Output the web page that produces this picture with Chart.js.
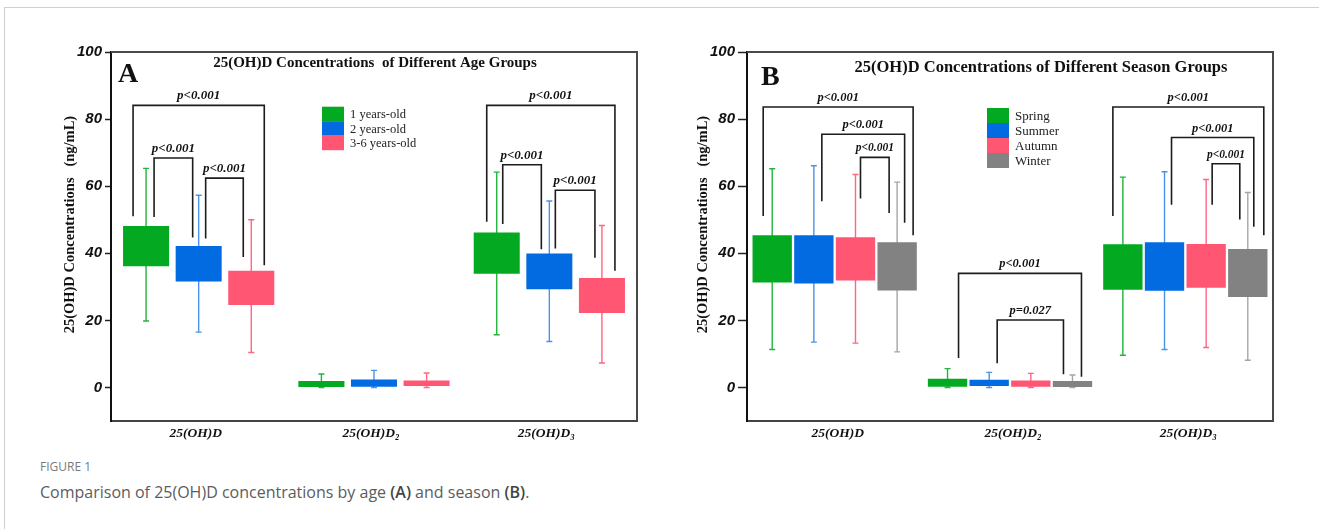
<!DOCTYPE html>
<html>
<head>
<meta charset="utf-8">
<script src="https://cdn.jsdelivr.net/npm/chart.js@4.4.0/dist/chart.umd.min.js"></script>
<style>
  body { margin: 0; background: #fff; }
  #page { position: relative; width: 1319px; height: 529px; overflow: hidden; background: #fff; }
  #frame { position: absolute; left: 4px; top: 7px; width: 1320px; height: 530px; border-top: 1px solid #cfcfcf; border-left: 1px solid #cfcfcf; }
  canvas { position: absolute; top: 0; }
  #chartA { left: 0; }
  #chartB { left: 660px; }
  .fig { position: absolute; left: 40px; top: 458px; font: 12px 'Open Sans', sans-serif; color: #7a7a7a; }
  .cap { position: absolute; left: 40px; top: 481px; font: 16px 'Open Sans', sans-serif; color: #5c5c5c; }
  .cap b { color: #444; font-weight: 600; }
</style>
</head>
<body>
<div id="page">
  <div id="frame"></div>
  <canvas id="chartA" width="660" height="451"></canvas>
  <canvas id="chartB" width="659" height="451"></canvas>
  <div class="fig">FIGURE 1</div>
  <div class="cap">Comparison of 25(OH)D concentrations by age <b>(A)</b> and season <b>(B)</b>.</div>
</div>
<script>
// 数据
const categories = ['25(OH)D', '25(OH)D₂', '25(OH)D₃'];
const yTicks = [0, 20, 40, 60, 80, 100];

// A: 年龄组  box = [Q1, Q3], whisker = [min, max]
const ageLabels = ['1 years-old', '2 years-old', '3-6 years-old'];
const age1Box = [[36.1, 48.1], [0.1, 1.9], [33.9, 46.2]];
const age1Whisker = [[19.8, 65.3], [0, 4.0], [15.7, 64.2]];
const age2Box = [[31.6, 42.2], [0.2, 2.4], [29.3, 39.9]];
const age2Whisker = [[16.5, 57.3], [0, 5.1], [13.7, 55.6]];
const age3Box = [[24.6, 34.8], [0.4, 2.1], [22.2, 32.6]];
const age3Whisker = [[10.4, 50.0], [0, 4.3], [7.3, 48.3]];

// B: 季节组
const seasonLabels = ['Spring', 'Summer', 'Autumn', 'Winter'];
const springBox = [[31.3, 45.4], [0.2, 2.6], [29.1, 42.7]];
const springWhisker = [[11.3, 65.2], [0, 5.6], [9.6, 62.7]];
const summerBox = [[31.0, 45.4], [0.4, 2.3], [28.8, 43.3]];
const summerWhisker = [[13.5, 66.1], [0, 4.5], [11.3, 64.3]];
const autumnBox = [[31.9, 44.8], [0.2, 2.1], [29.7, 42.8]];
const autumnWhisker = [[13.2, 63.5], [0, 4.2], [11.9, 62.0]];
const winterBox = [[28.9, 43.3], [0, 1.9], [27.0, 41.3]];
const winterWhisker = [[10.6, 61.2], [0, 3.7], [8.1, 58.1]];

// 显著性标注: [类别, 起组, 止组, 横线高度, 左脚底, 右脚底, 文本]
const ageBrackets = [
  [0, 0, 2, 84.1, 51.0, 36.4, 'p<0.001'],
  [0, 0, 1, 68.4, 50.8, 44.7, 'p<0.001'],
  [0, 1, 2, 62.4, 44.4, 38.9, 'p<0.001'],
  [2, 0, 2, 84.1, 49.4, 34.8, 'p<0.001'],
  [2, 0, 1, 66.4, 48.7, 41.2, 'p<0.001'],
  [2, 1, 2, 58.8, 41.4, 38.7, 'p<0.001']
];
const seasonBrackets = [
  [0, 0, 3, 83.6, 51.1, 45.4, 'p<0.001'],
  [0, 1, 3, 75.5, 55.5, 49.1, 'p<0.001'],
  [0, 2, 3, 68.6, 56.3, 52.0, 'p<0.001'],
  [1, 0, 3, 34.0, 8.8, 3.2, 'p<0.001'],
  [1, 1, 3, 20.1, 7.2, 3.9, 'p=0.027'],
  [2, 0, 3, 83.6, 51.1, 45.4, 'p<0.001'],
  [2, 1, 3, 74.5, 54.5, 47.9, 'p<0.001'],
  [2, 2, 3, 66.7, 54.5, 50.1, 'p<0.001']
];

const boxColors = ['#03a921', '#036be2', '#ff5673', '#828282'];
const whiskerColors = ['#22b43e', '#4a93ea', '#ff6682', '#a6a6a6'];
const SERIF = "'Liberation Serif', 'Times New Roman', serif";

const boxPlot = {
  id: 'boxPlot',
  beforeDatasetsDraw(chart) {
    const ctx = chart.ctx, y = chart.scales.y;
    chart.data.datasets.forEach((ds, d) => {
      const meta = chart.getDatasetMeta(d);
      ctx.save();
      ctx.strokeStyle = whiskerColors[d];
      ctx.lineWidth = 1.4;
      ds.whiskers.forEach((w, i) => {
        const x = meta.data[i].x;
        const lo = y.getPixelForValue(w[0]), hi = y.getPixelForValue(w[1]);
        ctx.beginPath();
        ctx.moveTo(x, lo); ctx.lineTo(x, hi);
        ctx.moveTo(x - 3, lo); ctx.lineTo(x + 3, lo);
        ctx.moveTo(x - 3, hi); ctx.lineTo(x + 3, hi);
        ctx.stroke();
      });
      ctx.restore();
    });
  },
  afterDatasetsDraw(chart, args, opts) {
    const ctx = chart.ctx, y = chart.scales.y;
    ctx.save();
    ctx.strokeStyle = '#1c1c1c';
    ctx.fillStyle = '#111';
    ctx.lineWidth = 1.6;
    ctx.textAlign = 'center';
    ctx.textBaseline = 'alphabetic';
    opts.brackets.forEach((b, k) => {
      const [cat, from, to, top, leftEnd, rightEnd, text] = b;
      const st = opts.bracketStyle[k];
      const x1 = chart.getDatasetMeta(from).data[cat].x + st[0];
      const x2 = chart.getDatasetMeta(to).data[cat].x + st[1];
      const yt = y.getPixelForValue(top);
      ctx.beginPath();
      ctx.moveTo(x1, y.getPixelForValue(leftEnd));
      ctx.lineTo(x1, yt);
      ctx.lineTo(x2, yt);
      ctx.lineTo(x2, y.getPixelForValue(rightEnd));
      ctx.stroke();
      ctx.font = 'italic bold ' + st[2] + 'px ' + SERIF;
      ctx.fillText(text, (x1 + x2) / 2, yt - 6);
    });
    ctx.restore();
  },
  afterDraw(chart, args, opts) {
    const ctx = chart.ctx, a = chart.chartArea;
    ctx.save();
    // 上、右边框
    ctx.strokeStyle = '#4a4a4a';
    ctx.lineWidth = 2;
    ctx.beginPath();
    ctx.moveTo(a.left, a.top);
    ctx.lineTo(a.right, a.top);
    ctx.lineTo(a.right, a.bottom);
    ctx.stroke();

    ctx.fillStyle = '#111';
    // 标题
    ctx.font = 'bold ' + opts.titleSize + 'px ' + SERIF;
    ctx.textAlign = 'center';
    ctx.textBaseline = 'middle';
    ctx.fillText(opts.title, opts.titleX, opts.titleY);
    // 面板字母
    ctx.font = 'bold 28px ' + SERIF;
    ctx.textAlign = 'left';
    ctx.textBaseline = 'alphabetic';
    ctx.fillText(opts.letter, opts.letterX, opts.letterY);
    // y 轴标题
    ctx.save();
    ctx.translate(opts.yTitleX, 224.6);
    ctx.rotate(-Math.PI / 2);
    ctx.font = 'bold 14.5px ' + SERIF;
    ctx.textAlign = 'center';
    ctx.textBaseline = 'middle';
    ctx.fillText('25(OH)D Concentrations   (ng/mL)', 0, 0);
    ctx.restore();
    // 图例
    ctx.font = opts.legendSize + 'px ' + SERIF;
    ctx.textBaseline = 'middle';
    chart.data.datasets.forEach((ds, d) => {
      const yy = opts.legendY + d * opts.legendRow;
      ctx.fillStyle = boxColors[d];
      ctx.fillRect(opts.legendX, yy, 22, opts.legendRow);
      ctx.fillStyle = '#222';
      ctx.fillText(ds.label, opts.legendX + 28, yy + opts.legendRow / 2 + 1);
    });
    ctx.restore();
  }
};

function makeChart(id, labels, boxes, whiskers, o) {
  const datasets = labels.map((lab, d) => ({
    label: lab,
    data: boxes[d],
    whiskers: whiskers[d],
    backgroundColor: boxColors[d],
    borderWidth: 0,
    categoryPercentage: o.catPct,
    barPercentage: o.barPct
  }));
  return new Chart(document.getElementById(id), {
    type: 'bar',
    data: { labels: categories, datasets },
    plugins: [boxPlot],
    options: {
      responsive: false,
      animation: false,
      layout: { padding: { left: 0, top: 52, right: o.padRight, bottom: 0 } },
      plugins: {
        legend: { display: false },
        tooltip: { enabled: false },
        boxPlot: o.plot
      },
      scales: {
        x: {
          grid: { display: false, drawTicks: false },
          border: { display: true, color: '#444', width: 2 },
          ticks: {
            color: '#111',
            padding: 4,
            labelOffset: o.labelOffset,
            font: { family: SERIF, size: 13.5, style: 'italic', weight: 'bold' }
          },
          afterFit: s => { s.height = 30; }
        },
        y: {
          min: -10,
          max: 100,
          afterBuildTicks: s => { s.ticks = yTicks.map(v => ({ value: v })); },
          grid: { drawOnChartArea: false, drawTicks: true, tickLength: o.tickLen, tickWidth: 1.5, tickColor: '#222' },
          border: { display: true, color: '#111', width: 2 },
          ticks: {
            color: '#111',
            padding: 3,
            font: { family: "'Liberation Sans', Arial, sans-serif", size: 15, style: 'italic', weight: 'bold' }
          },
          afterFit: s => { s.width = o.yWidth; }
        }
      }
    }
  });
}

makeChart('chartA', ageLabels,
  [age1Box, age2Box, age3Box],
  [age1Whisker, age2Whisker, age3Whisker],
  {
    catPct: 0.9, barPct: 0.875, padRight: 23, yWidth: 111, tickLen: 6, labelOffset: -3,
    plot: {
      title: '25(OH)D Concentrations  of Different Age Groups', titleSize: 15, titleX: 375, titleY: 63,
      letter: 'A', letterX: 118, letterY: 82,
      yTitleX: 70,
      legendX: 322, legendY: 106.7, legendRow: 14.5, legendSize: 12.5,
      brackets: ageBrackets,
      bracketStyle: [[-13, 13, 13], [8, -6, 13], [7, -8, 13], [-10, 13, 13], [6, -8, 13], [6, -7, 13]]
    }
  });

makeChart('chartB', seasonLabels,
  [springBox, summerBox, autumnBox, winterBox],
  [springWhisker, summerWhisker, autumnWhisker, winterWhisker],
  {
    catPct: 0.95, barPct: 0.945, padRight: 46, yWidth: 87, tickLen: 9, labelOffset: 3,
    plot: {
      title: '25(OH)D Concentrations of Different Season Groups', titleSize: 16.5, titleX: 1041 - 660, titleY: 68,
      letter: 'B', letterX: 101, letterY: 85,
      yTitleX: 43.3,
      legendX: 327, legendY: 108, legendRow: 15, legendSize: 13,
      brackets: seasonBrackets,
      bracketStyle: [[-9, 16, 12.5], [8, 7.5, 12.5], [5, -8, 11.5], [11, 9, 12.5], [8, -9, 12.5], [-10, 16, 12.5], [7, 6, 12.5], [6, -8, 11.5]]
    }
  });
</script>
</body>
</html>
